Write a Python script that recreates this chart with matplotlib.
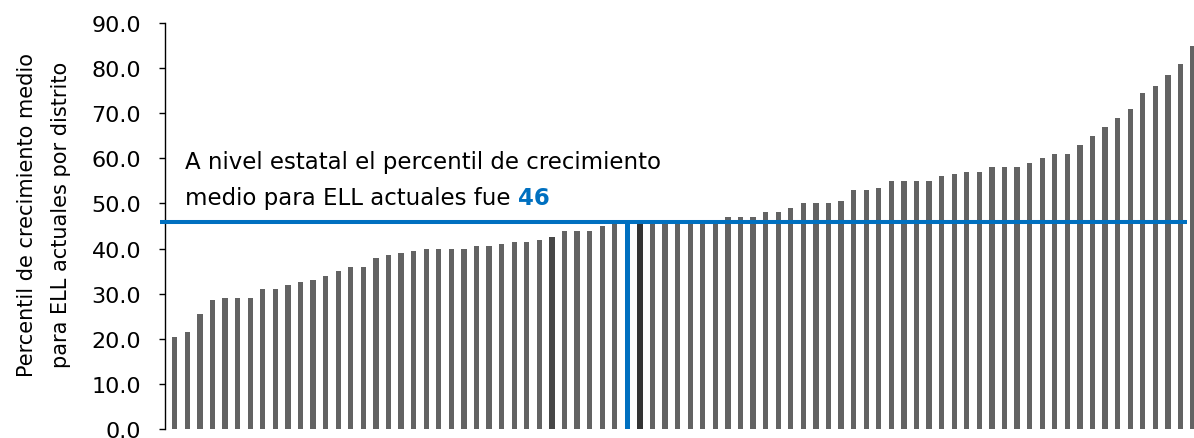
import matplotlib
matplotlib.use("Agg")
import matplotlib.pyplot as plt
import numpy as np

# Percentil de crecimiento medio por distrito (ordenado)
valores = [20.5, 21.5, 25.5, 28.5, 29.0, 29.0, 29.0, 31.0, 31.0, 32.0,
           32.5, 33.0, 34.0, 35.0, 36.0, 36.0, 38.0, 38.5, 39.0, 39.5,
           40.0, 40.0, 40.0, 40.0, 40.5, 40.5, 41.0, 41.5, 41.5, 42.0,
           42.5, 44.0, 44.0, 44.0, 45.0, 45.5, 46.0, 46.0, 46.0, 46.0,
           46.0, 46.0, 46.0, 46.0, 47.0, 47.0, 47.0, 48.0, 48.0, 49.0,
           50.0, 50.0, 50.0, 50.5, 53.0, 53.0, 53.5, 55.0, 55.0, 55.0,
           55.0, 56.0, 56.5, 57.0, 57.0, 58.0, 58.0, 58.0, 59.0, 60.0,
           61.0, 61.0, 63.0, 65.0, 67.0, 69.0, 71.0, 74.5, 76.0, 78.5,
           81.0, 85.0]
idx_oscuro = [30]      # distrito resaltado en gris oscuro
idx_azul = [36]        # distrito resaltado en azul
idx_negro = [37]       # distrito resaltado casi negro
valor_estatal = 46
etiquetas_y = [f"{v:.1f}" for v in np.arange(0, 91, 10)]

gris = "#636363"
azul = "#0070C0"
plt.rcParams["font.family"] = ["DejaVu Sans"]

fig = plt.figure(figsize=(11.94, 4.39), dpi=100)
ax = fig.add_axes([0.138, 0.0205, 0.862, 0.9247])

colores = [gris] * len(valores)
for i in idx_oscuro:
    colores[i] = "#474747"
for i in idx_azul:
    colores[i] = azul
for i in idx_negro:
    colores[i] = "#333333"

x = np.arange(len(valores))
ax.bar(x, valores, width=0.42, color=colores, zorder=2)

# linea del nivel estatal
ax.hlines(valor_estatal, -1.2, 80.5, colors=azul, linewidth=2.9, zorder=3, clip_on=False)

ax.set_xlim(-0.796, 81.07)
ax.set_ylim(0, 90)
ax.set_yticks(np.arange(0, 91, 10))
ax.set_yticklabels(etiquetas_y)
ax.set_xticks([])
for s in ["top", "right", "bottom"]:
    ax.spines[s].set_visible(False)
ax.spines["left"].set_linewidth(1.0)
ax.tick_params(axis="y", direction="out", length=4, width=1.0, pad=13, labelsize=16)

ax.set_ylabel("Percentil de crecimiento medio\npara ELL actuales por distrito",
              fontsize=15, linespacing=1.9)
ax.yaxis.set_label_coords(-0.091, 0.53)

# texto de anotacion
ax.text(0.8, 59.4, "A nivel estatal el percentil de crecimiento",
        fontsize=16.5, va="center", ha="left")
t2 = ax.text(0.8, 51.4, "medio para ELL actuales fue ",
             fontsize=16.5, va="center", ha="left")
ax.annotate(str(valor_estatal), xy=(1, 0.5), xycoords=t2, va="center", ha="left",
            fontsize=16.5, fontweight="bold", color=azul)

fig.savefig("out.png", dpi=100)
